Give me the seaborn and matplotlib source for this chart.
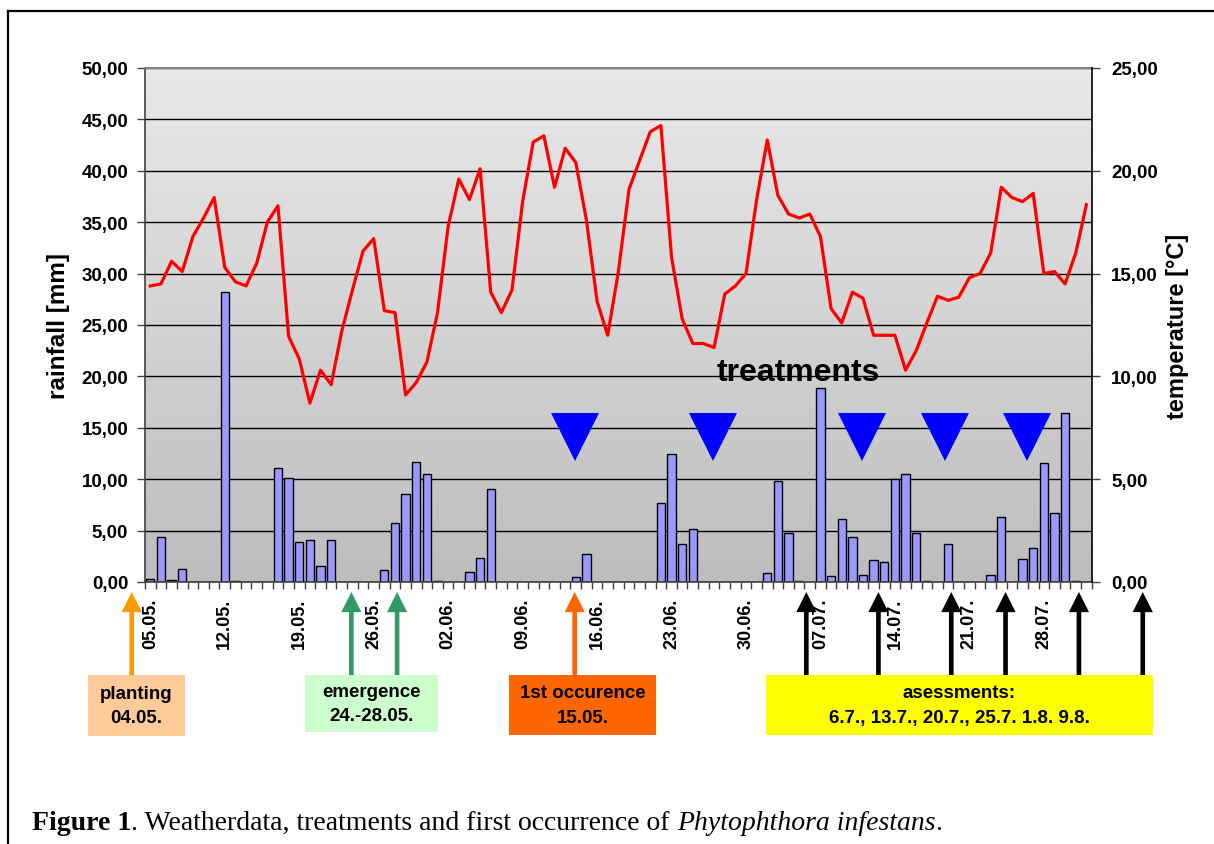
import numpy as np
import pandas as pd
import matplotlib
matplotlib.use("Agg")
import matplotlib.pyplot as plt
import seaborn as sns
from matplotlib.patches import Rectangle
from matplotlib.lines import Line2D
from matplotlib.transforms import blended_transform_factory
from matplotlib.colors import LinearSegmentedColormap

# ---- daily weather series, 05.05. - 01.08. ----
rain_mm = [0.3, 4.4, 0.2, 1.3, 0.0, 0.0, 0.0, 28.2, 0.1, 0.0,
           0.0, 0.0, 11.1, 10.1, 3.9, 4.1, 1.6, 4.1, 0.0, 0.0,
           0.0, 0.0, 1.2, 5.7, 8.6, 11.7, 10.5, 0.1, 0.0, 0.0,
           1.0, 2.3, 9.0, 0.0, 0.0, 0.0, 0.0, 0.0, 0.0, 0.0,
           0.5, 2.7, 0.0, 0.0, 0.0, 0.0, 0.0, 0.0, 7.7, 12.5,
           3.7, 5.2, 0.0, 0.0, 0.0, 0.0, 0.0, 0.0, 0.9, 9.8,
           4.8, 0.1, 0.0, 18.9, 0.6, 6.1, 4.4, 0.7, 2.1, 1.9,
           10.0, 10.5, 4.8, 0.1, 0.0, 3.7, 0.0, 0.0, 0.0, 0.7,
           6.3, 0.0, 2.2, 3.3, 11.6, 6.7, 16.4, 0.1, 0.0]

temp_c = [14.4, 14.5, 15.6, 15.1, 16.8, 17.7, 18.7, 15.3, 14.6, 14.4,
          15.5, 17.5, 18.3, 11.95, 10.85, 8.7, 10.3, 9.6, 12.2, 14.2,
          16.1, 16.7, 13.2, 13.1, 9.1, 9.7, 10.7, 13.1, 17.3, 19.6,
          18.6, 20.1, 14.1, 13.1, 14.2, 18.5, 21.4, 21.7, 19.2, 21.1,
          20.4, 17.6, 13.65, 12.0, 15.1, 19.1, 20.5, 21.9, 22.2, 15.8,
          12.8, 11.6, 11.6, 11.4, 14.0, 14.4, 15.0, 18.6, 21.5, 18.8,
          17.9, 17.7, 17.9, 16.8, 13.3, 12.6, 14.1, 13.8, 12.0, 12.0,
          12.0, 10.3, 11.25, 12.6, 13.9, 13.7, 13.85, 14.8, 15.0, 16.0,
          19.2, 18.7, 18.5, 18.9, 15.0, 15.1, 14.5, 16.0, 18.35]

days = list(pd.date_range("2005-05-05", periods=len(rain_mm), freq="D").strftime("%d.%m."))
label_step = 7

# treatment dates (position on the day axis) and their drawing level on the rain axis
treatment_pos = [39.9, 52.9, 66.9, 74.7, 82.4]
treatment_level = 14.06

# field events below the axis: positions on the day axis
planting_pos = [-1.75]
emergence_pos = [18.9, 23.2]
occurrence_pos = [39.9]
assessment_pos = [61.67, 68.45, 75.3, 80.4, 87.3, 93.3]

W, H = 1214, 845
plt.rcParams["font.family"] = ["Liberation Sans", "DejaVu Sans"]
plt.rcParams["font.weight"] = "bold"

fig = plt.figure(figsize=(W / 100, H / 100), dpi=100)
fig.patch.set_facecolor("white")


def fx(px):
    return px / W


def fy(py):
    return 1 - py / H


ax_l, ax_r, ax_t, ax_b = 145, 1091.7, 69, 583
ax = fig.add_axes([fx(ax_l), fy(ax_b), fx(ax_r - ax_l), (ax_b - ax_t) / H])

# grey gradient plot area
grad = np.linspace(1, 0, 256).reshape(-1, 1)
cmap = LinearSegmentedColormap.from_list("bg", ["#BDBDBD", "#E9E9E9"])
ax.imshow(grad, extent=[0, 1, 0, 1], transform=ax.transAxes, cmap=cmap,
          aspect="auto", zorder=0, vmin=0, vmax=1)

df = pd.DataFrame({"day": days, "rain": rain_mm})
sns.barplot(data=df, x="day", y="rain", order=days, color="#9999FF", saturation=1,
            edgecolor="black", linewidth=1.0, width=0.78, errorbar=None, ax=ax, zorder=2)

ax.set_xlim(-0.5, len(days) - 0.5)
ax.set_ylim(0, 50)
ax.set_yticks(np.arange(0, 50.1, 5))
ax.set_yticklabels([f"{v:.2f}".replace(".", ",") for v in np.arange(0, 50.1, 5)])
ax.yaxis.grid(True, color="black", lw=1.0)
ax.set_axisbelow(True)

ax.set_xticks(range(0, len(days), label_step))
ax.set_xticklabels(days[::label_step], rotation=90, va="top", ha="center")
ax.set_xticks(np.arange(-0.5, len(days), 1.0), minor=True)
ax.tick_params(axis="x", which="major", length=0, pad=11, labelsize=13)
ax.tick_params(axis="x", which="minor", length=5, width=1, color="#404040")
ax.tick_params(axis="y", which="major", length=6, width=1, pad=6, labelsize=13.5,
               color="#404040")
ax.set_xlabel("")
ax.set_ylabel("rainfall [mm]", fontsize=17.5, fontweight="bold", labelpad=8)

for side in ["left", "bottom"]:
    ax.spines[side].set_color("#404040")
    ax.spines[side].set_linewidth(1.2)
ax.spines["top"].set_color("#808080")
ax.spines["top"].set_linewidth(1.5)
ax.spines["right"].set_visible(False)

# treatment markers
ax.plot(treatment_pos, [treatment_level] * len(treatment_pos), ls="none", marker="v",
        markersize=35, color="#0000FF", markeredgewidth=0, zorder=3)
ax.text(60.9, 20.4, "treatments", ha="center", va="center", fontsize=23,
        fontweight="bold", color="black", zorder=3)

# temperature on the secondary axis
ax2 = ax.twinx()
sns.lineplot(x=np.arange(len(temp_c)), y=temp_c, ax=ax2, color="#FF0000", lw=2.3)
ax2.set_ylim(0, 25)
ax2.set_xlim(-0.5, len(days) - 0.5)
ax2.set_yticks(np.arange(0, 25.1, 5))
ax2.set_yticklabels([f"{v:.2f}".replace(".", ",") for v in np.arange(0, 25.1, 5)])
ax2.tick_params(axis="y", length=6, width=1, pad=8, labelsize=13.5, color="#404040")
ax2.set_ylabel("temperature [°C]", fontsize=17, fontweight="bold", labelpad=6)
for side in ["left", "top", "bottom"]:
    ax2.spines[side].set_visible(False)
ax2.spines["right"].set_color("black")
ax2.spines["right"].set_linewidth(1.2)

# event arrows and captions under the time axis
trans = blended_transform_factory(ax.transData, fig.transFigure)


def arrows(positions, color):
    for p in positions:
        ax.annotate("", xy=(p, fy(593)), xytext=(p, fy(676)), xycoords=trans,
                    textcoords=trans, annotation_clip=False,
                    arrowprops=dict(arrowstyle="simple,head_length=1.0,head_width=1.0,tail_width=0.23",
                                    mutation_scale=14.5, color=color, lw=0,
                                    shrinkA=0, shrinkB=0))


arrows(planting_pos, "#FF9900")
arrows(emergence_pos, "#339966")
arrows(occurrence_pos, "#FF6600")
arrows(assessment_pos, "black")

boxes = [
    ((88, 676, 185, 737), "#FFCC99", "planting\n04.05."),
    ((305, 676, 438, 733), "#CCFFCC", "emergence\n24.-28.05."),
    ((509, 676, 656, 736), "#FF6600", "1st occurence\n15.05."),
    ((766, 676, 1153, 736), "#FFFF00", "asessments:\n6.7., 13.7., 20.7., 25.7. 1.8. 9.8."),
]
for (x0, y0, x1, y1), fc, txt in boxes:
    fig.patches.append(Rectangle((fx(x0), fy(y1)), fx(x1 - x0), (y1 - y0) / H,
                                 transform=fig.transFigure, facecolor=fc,
                                 edgecolor="none", zorder=1))
    fig.text(fx((x0 + x1) / 2), fy((y0 + y1) / 2), txt, ha="center", va="center",
             fontsize=13.5, fontweight="bold", linespacing=1.55, zorder=2)

# frame lines
fig.add_artist(Line2D([fx(8), 1], [fy(12), fy(12)], color="black", lw=1.6))
fig.add_artist(Line2D([fx(8), fx(8)], [fy(12), 0], color="black", lw=1.6))

# figure caption with mixed styles
pieces = [("Figure 1", "bold", "normal"),
          (". Weatherdata, treatments and first occurrence of ", "normal", "normal"),
          ("Phytophthora infestans", "normal", "italic"),
          (".", "normal", "normal")]
renderer = fig.canvas.get_renderer()
xpos = 32
for txt, wt, st in pieces:
    t = fig.text(fx(xpos), fy(830), txt, ha="left", va="baseline", fontsize=20,
                 family="Liberation Serif", fontweight=wt, fontstyle=st)
    bb = t.get_window_extent(renderer=renderer)
    xpos += bb.width

fig.savefig("out.png", dpi=100)
